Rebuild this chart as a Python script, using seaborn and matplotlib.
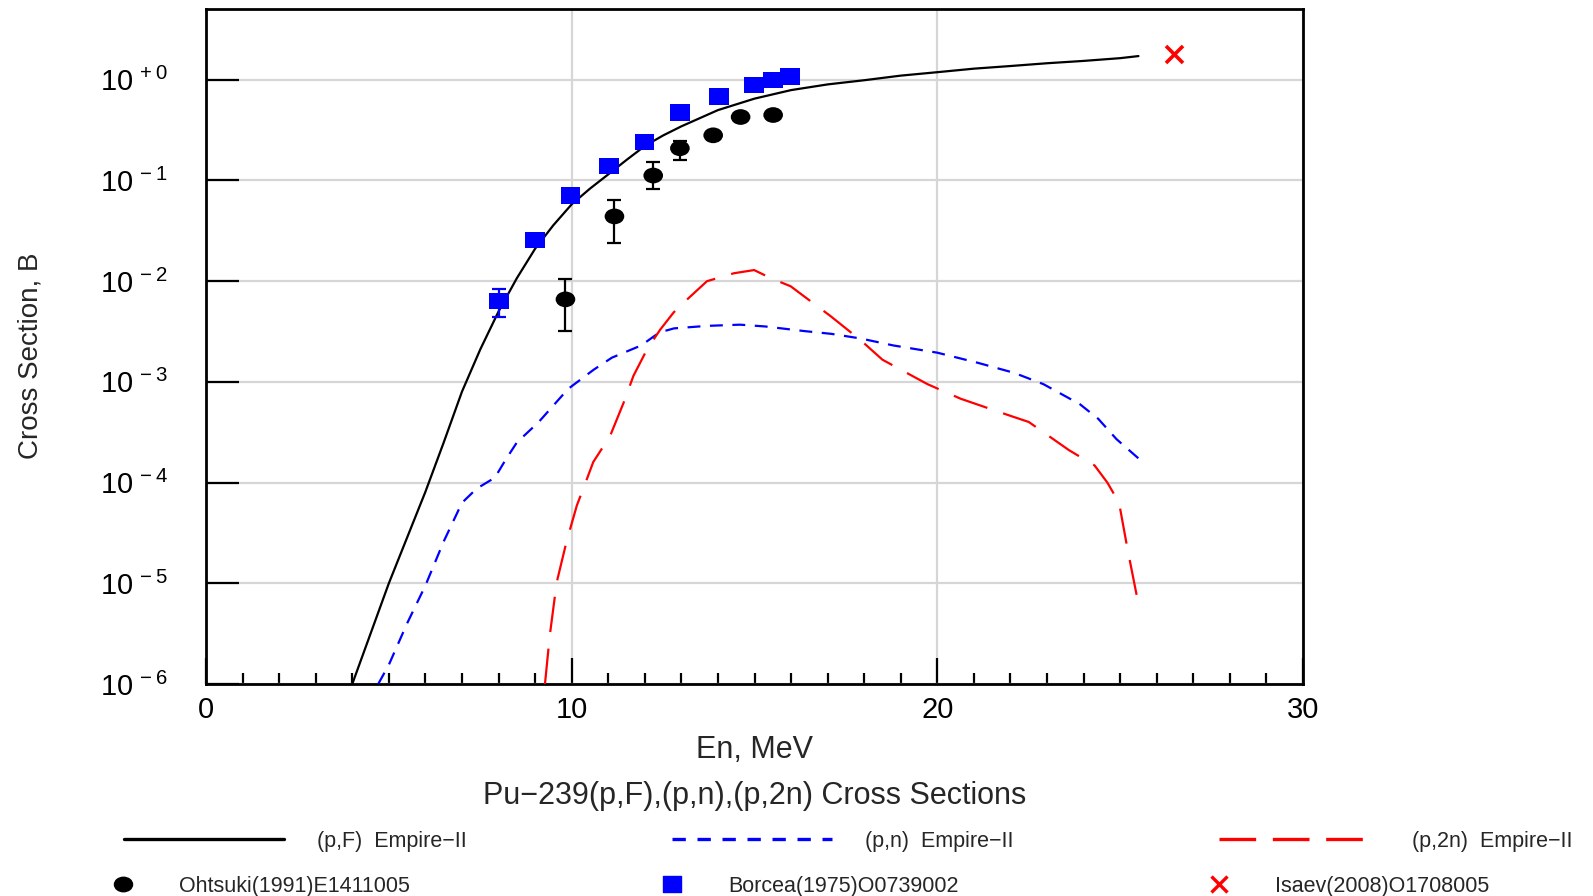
import numpy as np
import pandas as pd
import matplotlib
matplotlib.use("Agg")
import matplotlib.pyplot as plt
import seaborn as sns
from matplotlib.lines import Line2D
from matplotlib.path import Path
from matplotlib.transforms import Affine2D
from matplotlib.ticker import FixedLocator, MultipleLocator, FuncFormatter

# ---------------- data ----------------
E_fis = [4.0, 5.0, 6.0, 6.5, 7.0, 7.5, 8.0, 8.5, 9.0, 9.5, 10.0, 10.5, 11.0,
         11.5, 12.0, 12.5, 13.0, 14.0, 15.0, 16.0, 17.0, 18.0, 19.0, 20.0,
         21.0, 22.0, 23.0, 24.0, 25.0, 25.5]
sig_fis = [1.0e-6, 1.0e-5, 8.1e-5, 2.5e-4, 8.0e-4, 2.1e-3, 5.0e-3, 1.07e-2,
           2.1e-2, 3.6e-2, 5.8e-2, 8.3e-2, 1.15e-1, 1.6e-1, 2.2e-1, 2.8e-1,
           3.45e-1, 5.0e-1, 6.5e-1, 7.9e-1, 9.0e-1, 9.9e-1, 1.1, 1.19, 1.29,
           1.37, 1.46, 1.54, 1.64, 1.72]

E_pn = [4.71, 5.0, 5.5, 6.0, 6.5, 7.0, 7.4, 7.9, 8.2, 8.5, 9.1, 9.9, 10.6,
        11.1, 11.9, 12.4, 12.8, 13.7, 14.6, 15.3, 16.35, 17.1, 17.9, 18.8,
        20.0, 21.1, 22.1, 22.9, 23.9, 24.4, 24.9, 25.5]
sig_pn = [1.0e-6, 1.55e-6, 4.0e-6, 9.5e-6, 2.6e-5, 6.3e-5, 8.7e-5, 1.12e-4,
          1.7e-4, 2.5e-4, 4.0e-4, 8.5e-4, 1.32e-3, 1.74e-3, 2.3e-3, 3.1e-3,
          3.4e-3, 3.6e-3, 3.7e-3, 3.55e-3, 3.2e-3, 3.0e-3, 2.7e-3, 2.3e-3,
          1.95e-3, 1.55e-3, 1.23e-3, 9.5e-4, 6.0e-4, 4.3e-4, 2.7e-4, 1.74e-4]

E_p2n = [9.27, 9.4, 9.59, 9.86, 10.14, 10.41, 10.59, 11.05, 11.42, 11.69,
         12.06, 12.42, 12.79, 13.16, 13.7, 14.44, 14.99, 15.45, 15.99, 16.35,
         17.08, 17.9, 18.5, 19.73, 20.64, 22.0, 22.5, 23.6, 24.3, 24.65,
         24.97, 25.2, 25.5]
sig_p2n = [1.0e-6, 3.0e-6, 1.02e-5, 2.6e-5, 5.9e-5, 1.07e-4, 1.6e-4, 2.9e-4,
           6.2e-4, 1.15e-3, 2.1e-3, 3.3e-3, 4.9e-3, 6.6e-3, 1.0e-2, 1.2e-2,
           1.29e-2, 1.07e-2, 8.9e-3, 7.1e-3, 4.5e-3, 2.6e-3, 1.66e-3, 9.5e-4,
           6.8e-4, 4.6e-4, 4.0e-4, 2.1e-4, 1.48e-4, 1.0e-4, 6.3e-5, 2.2e-5,
           6.2e-6]

E_oht = [9.83, 11.17, 12.23, 12.96, 13.87, 14.62, 15.51]
sig_oht = [6.6e-3, 4.4e-2, 0.112, 0.209, 0.281, 0.427, 0.447]
lo_oht = [3.2e-3, 0.024, 0.083, 0.161, 0.26, 0.40, 0.42]
hi_oht = [1.06e-2, 0.064, 0.153, 0.245, 0.30, 0.45, 0.47]

E_bor = [8.02, 9.0, 9.97, 11.02, 11.99, 12.96, 14.03, 14.99, 15.51, 15.97]
sig_bor = [6.4e-3, 0.0255, 0.071, 0.139, 0.241, 0.475, 0.68, 0.886, 1.0, 1.08]
lo_bor = [4.4e-3, 0.024, 0.068, 0.133, 0.232, 0.46, 0.66, 0.86, 0.97, 1.05]
hi_bor = [8.3e-3, 0.027, 0.074, 0.145, 0.25, 0.49, 0.70, 0.91, 1.03, 1.11]

E_isa = [26.47]
sig_isa = [1.8]

y_exponents = [-6, -5, -4, -3, -2, -1, 0]
x_major = [0, 10, 20, 30]

title_text = "Pu\u2212239(p,F),(p,n),(p,2n) Cross Sections"
xlabel_text = "En, MeV"
ylabel_text = "Cross Section, B"
legend_labels = ["(p,F)  Empire\u2212II", "(p,n)  Empire\u2212II",
                 "(p,2n)  Empire\u2212II", "Ohtsuki(1991)E1411005",
                 "Borcea(1975)O0739002", "Isaev(2008)O1708005"]

# ---------------- style ----------------
sns.set_theme(style="white")
plt.rcParams["font.family"] = ["Liberation Sans", "DejaVu Sans"]
plt.rcParams["mathtext.fontset"] = "custom"
plt.rcParams["mathtext.rm"] = "Liberation Sans"
plt.rcParams["mathtext.default"] = "regular"

fig = plt.figure(figsize=(15.93, 8.96), dpi=100)
ax = fig.add_axes([206 / 1593, 1 - 684 / 896, 1097 / 1593, 675 / 896])

ell = Affine2D().scale(1.25, 1.0).transform_path(Path.unit_circle())
rect = Path([(-1.2, -1), (1.2, -1), (1.2, 1), (-1.2, 1), (-1.2, -1)],
            [Path.MOVETO, Path.LINETO, Path.LINETO, Path.LINETO, Path.CLOSEPOLY])

blue_dash = (0, (5.8, 4.3))
red_dash = (0, (16.0, 7.5))

df_fis = pd.DataFrame({"E": E_fis, "s": sig_fis})
df_pn = pd.DataFrame({"E": E_pn, "s": sig_pn})
df_p2n = pd.DataFrame({"E": E_p2n, "s": sig_p2n})

sns.lineplot(data=df_fis, x="E", y="s", ax=ax, color="black", lw=1.6,
             sort=False, estimator=None, zorder=3)
sns.lineplot(data=df_pn, x="E", y="s", ax=ax, color="#0000ff", lw=1.6,
             sort=False, estimator=None, linestyle=blue_dash, zorder=3)
sns.lineplot(data=df_p2n, x="E", y="s", ax=ax, color="#ff0000", lw=1.6,
             sort=False, estimator=None, linestyle=red_dash, zorder=3)

# error bars
so = np.array(sig_oht)
ax.errorbar(E_oht, so, yerr=[so - np.array(lo_oht), np.array(hi_oht) - so],
            fmt="none", ecolor="black", elinewidth=1.6, capsize=5,
            capthick=1.6, zorder=4)
sb = np.array(sig_bor)
ax.errorbar(E_bor, sb, yerr=[sb - np.array(lo_bor), np.array(hi_bor) - sb],
            fmt="none", ecolor="#0000ff", elinewidth=1.6, capsize=5,
            capthick=1.6, zorder=4)

sns.scatterplot(x=E_oht, y=sig_oht, ax=ax, marker=ell, s=200, color="black",
                edgecolor="none", zorder=5)
sns.scatterplot(x=E_bor, y=sig_bor, ax=ax, marker=rect, s=200, color="#0000ff",
                edgecolor="none", zorder=5)
sns.scatterplot(x=E_isa, y=sig_isa, ax=ax, marker="x", s=150, color="#ff0000",
                linewidth=2.6, zorder=5)

ax.set_yscale("log")
ax.set_xlim(0, 30)
ax.set_ylim(1e-6, 10 ** 0.703)

ax.xaxis.set_major_locator(FixedLocator(x_major))
ax.xaxis.set_minor_locator(MultipleLocator(1))
ax.yaxis.set_major_locator(FixedLocator([10.0 ** e for e in y_exponents]))
ax.yaxis.set_minor_locator(FixedLocator([]))


def yfmt(v, pos):
    e = int(round(np.log10(v)))
    s = "+0" if e == 0 else "-%d" % (-e)
    return r"$10^{\,%s}$" % s


ax.yaxis.set_major_formatter(FuncFormatter(yfmt))

ax.grid(True, which="major", color="#d6d6d6", lw=1.6)
ax.set_axisbelow(True)
for sp in ax.spines.values():
    sp.set_color("black")
    sp.set_linewidth(2.0)
    sp.set_visible(True)

ax.tick_params(axis="x", which="major", direction="in", length=19, width=1.6,
               colors="black", labelsize=21, pad=9, top=False, bottom=True)
ax.tick_params(axis="x", which="minor", direction="in", length=8, width=1.6,
               colors="black", top=False, bottom=True)
ax.tick_params(axis="y", which="major", direction="in", length=24, width=1.6,
               colors="black", labelsize=21, pad=27, left=True, right=False)
ax.tick_params(axis="y", which="minor", left=False, right=False)

ax.set_xlabel(xlabel_text, fontsize=22)
ax.set_ylabel(ylabel_text, fontsize=20)
ax.xaxis.set_label_coords(0.5, -0.098)
ax.yaxis.set_label_coords(-0.160, 0.486)
ax.xaxis.label.set_va("center")
ax.yaxis.label.set_va("center")
ax.text(0.5, -0.166, title_text, transform=ax.transAxes, ha="center",
        va="center", fontsize=22)

# ---------------- legend ----------------
fs = 15.5
fpx = fs * 100 / 72
common = dict(loc="center left", bbox_transform=fig.transFigure, frameon=False,
              borderpad=0, borderaxespad=0, fontsize=fs)
h_fis = Line2D([], [], color="black", lw=2.4)
h_pn = Line2D([], [], color="#0000ff", lw=2.4, linestyle=(0, (4.0, 3.5)))
h_p2n = Line2D([], [], color="#ff0000", lw=2.4, linestyle=(0, (11.0, 5.0)))
h_oht = Line2D([], [], color="black", marker=ell, markersize=13, lw=0)
h_bor = Line2D([], [], color="#0000ff", marker=rect, markersize=13, lw=0)
h_isa = Line2D([], [], color="#ff0000", marker="x", markersize=12, lw=0,
               markeredgewidth=2.4)

row1 = 1 - 841 / 896
row2 = 1 - 886 / 896
line_pos = [124, 672, 1219]
mark_pos = [123, 672, 1219]
for h, lab, x in zip([h_fis, h_pn, h_p2n], legend_labels[:3], line_pos):
    fig.legend(handles=[h], labels=[lab], bbox_to_anchor=(x / 1593, row1),
               handlelength=160 / fpx, handletextpad=33 / fpx, **common)
for h, lab, x in zip([h_oht, h_bor, h_isa], legend_labels[3:], mark_pos):
    fig.legend(handles=[h], labels=[lab],
               bbox_to_anchor=((x - fpx / 2) / 1593, row2),
               handlelength=1.0, handletextpad=(56 - fpx / 2) / fpx, **common)

fig.savefig("out.png", dpi=100, facecolor="white")
